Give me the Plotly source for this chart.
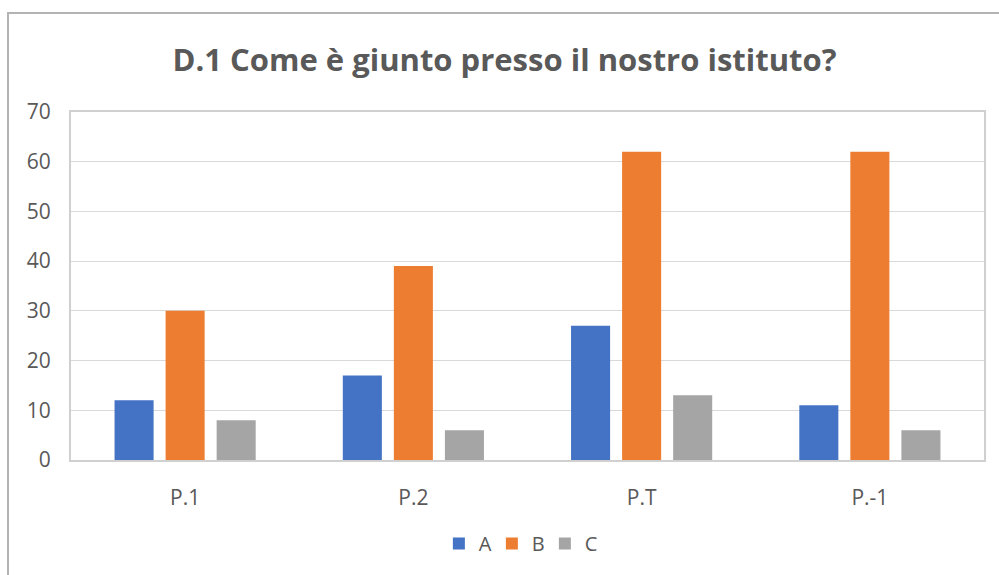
import plotly.graph_objects as go

categories = ["P.1", "P.2", "P.T", "P.-1"]
series_names = ["A", "B", "C"]
values_A = [12, 17, 27, 11]
values_B = [30, 39, 62, 62]
values_C = [8, 6, 13, 6]
colors = ["#4472C4", "#ED7D31", "#A5A5A5"]
y_ticks = [0, 10, 20, 30, 40, 50, 60, 70]

fig = go.Figure()
for name, vals, col in zip(series_names, [values_A, values_B, values_C], colors):
    fig.add_trace(go.Bar(x=categories, y=vals, name=name, marker=dict(color=col, line=dict(width=0))))

fig.update_layout(
    width=999, height=575,
    margin=dict(l=71, r=15, t=112, b=115),
    paper_bgcolor="white", plot_bgcolor="white",
    barmode="group", bargap=0.329, bargroupgap=0.235,
    font=dict(family="Open Sans, Noto Sans, sans-serif", color="#595959", size=21),
    title=dict(text="<b>D.1 Come è giunto presso il nostro istituto?</b>",
               x=0.505, xanchor="center", y=0.895, yanchor="middle",
               font=dict(size=31, color="#595959")),
    legend=dict(orientation="h", x=0.49, xanchor="center", y=-0.24, yanchor="middle",
                font=dict(size=20, color="#595959"), itemwidth=30, traceorder="normal",
                entrywidth=8, entrywidthmode="pixels"),
    showlegend=True,
)
fig.update_yaxes(range=[0, 70], tickvals=y_ticks, showgrid=True, gridcolor="#D9D9D9", gridwidth=1,
                 zeroline=False, showline=True, linecolor="#D0D0D0", linewidth=2, mirror=True,
                 ticks="", ticklabelstandoff=14, fixedrange=True)
fig.update_xaxes(showgrid=False, showline=True, linecolor="#D0D0D0", linewidth=2, mirror=True,
                 ticks="", ticklabelstandoff=18, fixedrange=True)

fig.add_shape(type="rect", xref="paper", yref="paper", x0=-0.069, x1=1.2, y0=-0.6, y1=1.2845,
              line=dict(color="#B3B3B3", width=2), fillcolor="rgba(0,0,0,0)", layer="above")

fig.write_html("out.html")
